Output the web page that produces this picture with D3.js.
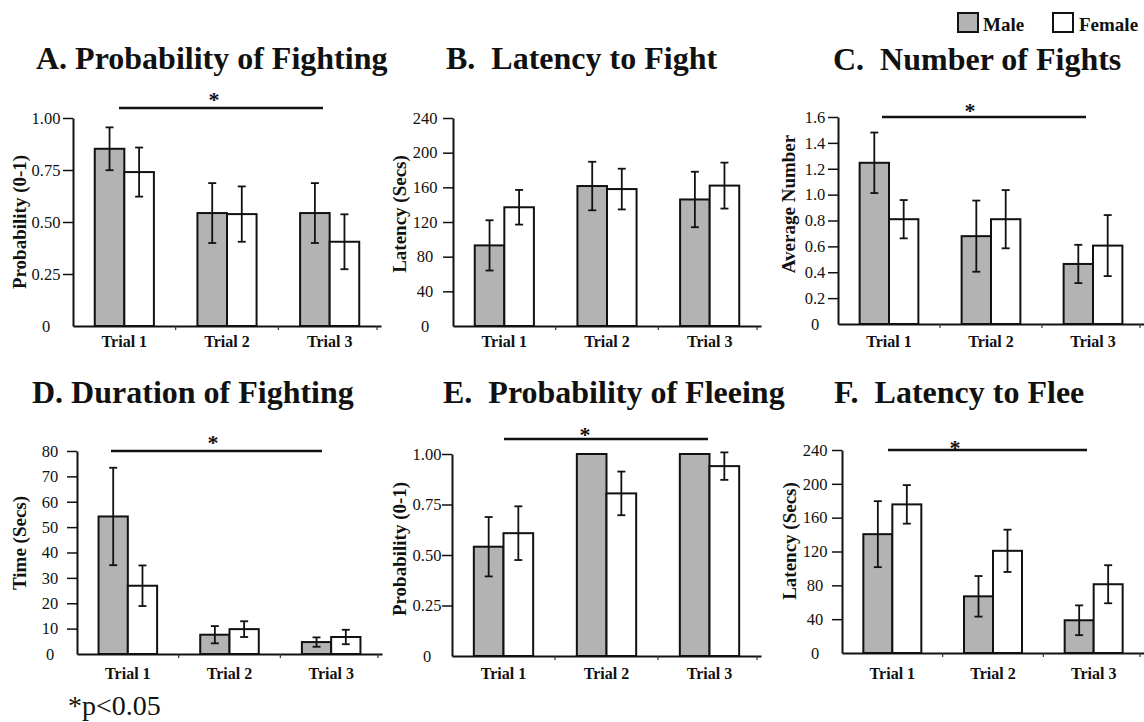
<!DOCTYPE html>
<html><head><meta charset="utf-8">
<script src="https://cdn.jsdelivr.net/npm/d3@7"></script>
<style>
body{margin:0;background:#fff;}
svg text{font-family:"Liberation Serif","Times New Roman",serif;}
</style></head>
<body><svg id="c" width="1144" height="722"></svg>
<script>
// ---------- data ----------
const trials = ["Trial 1", "Trial 2", "Trial 3"];
const series = ["Male", "Female"];
const titles = ["A. Probability of Fighting", "B.\u00a0 Latency to Fight", "C.\u00a0 Number of Fights",
                "D. Duration of Fighting", "E.\u00a0 Probability of Fleeing", "F.\u00a0 Latency to Flee"];
const yTitles = ["Probability (0-1)", "Latency (Secs)", "Average Number", "Time (Secs)", "Probability (0-1)", "Latency (Secs)"];

const probTicks = [0, 0.25, 0.5, 0.75, 1];
const probTickLabels = ["0", "0.25", "0.50", "0.75", "1.00"];
const latencyTicks = [0, 40, 80, 120, 160, 200, 240];
const latencyTickLabels = ["0", "40", "80", "120", "160", "200", "240"];
const numberTicks = [0, 0.2, 0.4, 0.6, 0.8, 1.0, 1.2, 1.4, 1.6];
const numberTickLabels = ["0", "0.2", "0.4", "0.6", "0.8", "1.0", "1.2", "1.4", "1.6"];
const durationTicks = [0, 10, 20, 30, 40, 50, 60, 70, 80];
const durationTickLabels = ["0", "10", "20", "30", "40", "50", "60", "70", "80"];

// A. Probability of Fighting
const fightProbMale = [0.852, 0.543, 0.543];
const fightProbMaleSE = [0.103, 0.144, 0.144];
const fightProbFemale = [0.74, 0.538, 0.405];
const fightProbFemaleSE = [0.118, 0.133, 0.132];
// B. Latency to Fight
const fightLatMale = [93, 161.5, 146];
const fightLatMaleSE = [29, 28, 32];
const fightLatFemale = [137, 158, 162];
const fightLatFemaleSE = [20, 23.5, 26.5];
// C. Number of Fights
const fightNumMale = [1.246, 0.679, 0.464];
const fightNumMaleSE = [0.234, 0.275, 0.148];
const fightNumFemale = [0.81, 0.81, 0.606];
const fightNumFemaleSE = [0.148, 0.225, 0.236];
// D. Duration of Fighting
const fightDurMale = [54.2, 7.6, 4.7];
const fightDurMaleSE = [19.2, 3.4, 1.85];
const fightDurFemale = [26.9, 9.8, 6.7];
const fightDurFemaleSE = [8, 3.1, 2.85];
// E. Probability of Fleeing
const fleeProbMale = [0.541, 1.0, 1.0];
const fleeProbMaleSE = [0.147, 0, 0];
const fleeProbFemale = [0.608, 0.805, 0.94];
const fleeProbFemaleSE = [0.133, 0.108, 0.068];
// F. Latency to Flee
const fleeLatMale = [140.5, 67, 38.7];
const fleeLatMaleSE = [39, 24, 17.6];
const fleeLatFemale = [175.7, 120.8, 81.3];
const fleeLatFemaleSE = [22.8, 25, 22.5];

const footnote = "*p<0.05";
const sigMark = "*";

// ---------- build panels ----------
const panelData = [
  {male: fightProbMale, maleSE: fightProbMaleSE, female: fightProbFemale, femaleSE: fightProbFemaleSE, max: 1, ticks: probTicks, labels: probTickLabels, sig: true},
  {male: fightLatMale, maleSE: fightLatMaleSE, female: fightLatFemale, femaleSE: fightLatFemaleSE, max: 240, ticks: latencyTicks, labels: latencyTickLabels, sig: false},
  {male: fightNumMale, maleSE: fightNumMaleSE, female: fightNumFemale, femaleSE: fightNumFemaleSE, max: 1.6, ticks: numberTicks, labels: numberTickLabels, sig: true},
  {male: fightDurMale, maleSE: fightDurMaleSE, female: fightDurFemale, femaleSE: fightDurFemaleSE, max: 80, ticks: durationTicks, labels: durationTickLabels, sig: true},
  {male: fleeProbMale, maleSE: fleeProbMaleSE, female: fleeProbFemale, femaleSE: fleeProbFemaleSE, max: 1, ticks: probTicks, labels: probTickLabels, sig: true},
  {male: fleeLatMale, maleSE: fleeLatMaleSE, female: fleeLatFemale, femaleSE: fleeLatFemaleSE, max: 240, ticks: latencyTicks, labels: latencyTickLabels, sig: true}
];

// layout (pixel geometry)
const layout = [
  {x0: 73,  x1: 381,  yTop: 118, yBot: 326, tickX: 46,  labX: 19,  labY: 222, titleX: 36,  titleY: 69,  xLabY: 347, sx1: 119, sx2: 323,  sy: 108, starX: 214, starY: 95},
  {x0: 453, x1: 761,  yTop: 118, yBot: 326, tickX: 425, labX: 399, labY: 214, titleX: 446, titleY: 69,  xLabY: 347},
  {x0: 838, x1: 1144, yTop: 117, yBot: 324, tickX: 815, labX: 788, labY: 204, titleX: 833, titleY: 70,  xLabY: 347, sx1: 882, sx2: 1086, sy: 117, starX: 970, starY: 106},
  {x0: 77,  x1: 382,  yTop: 451, yBot: 654, tickX: 50,  labX: 19,  labY: 543, titleX: 32,  titleY: 403, xLabY: 679, sx1: 111, sx2: 322,  sy: 451, starX: 213, starY: 438},
  {x0: 452, x1: 761,  yTop: 454, yBot: 656, tickX: 427, labX: 399, labY: 549, titleX: 443, titleY: 403, xLabY: 679, sx1: 504, sx2: 708,  sy: 439, starX: 585, starY: 430},
  {x0: 842, x1: 1144, yTop: 450, yBot: 653, tickX: 815, labX: 789, labY: 541, titleX: 834, titleY: 403, xLabY: 679, sx1: 888, sx2: 1087, sy: 450, starX: 955, starY: 443}
];

const GRAY = "#b3b3b3";
const svg = d3.select("#c");

panelData.forEach((p, i) => {
  const L = layout[i];
  const g = svg.append("g");
  const x = d3.scaleBand().domain(trials).range([L.x0, L.x1]).padding(0);
  const y = d3.scaleLinear().domain([0, p.max]).range([L.yBot, L.yTop]);
  const bw = x.bandwidth() * 0.288;

  // title
  g.append("text").attr("x", L.titleX).attr("y", L.titleY)
    .attr("font-size", 32).attr("font-weight", "bold").attr("fill", "#111")
    .text(titles[i]);

  // y axis title
  g.append("text")
    .attr("transform", `translate(${L.labX},${L.labY}) rotate(-90)`)
    .attr("text-anchor", "middle").attr("dominant-baseline", "central")
    .attr("font-size", 19).attr("font-weight", "bold").attr("fill", "#111")
    .text(yTitles[i]);

  // bars
  const rows = trials.map((t, k) => ({t, k}));
  const drawSeries = (vals, ses, offset, fill) => {
    g.selectAll(null).data(rows).enter().append("rect")
      .attr("x", d => x(d.t) + x.bandwidth() / 2 + offset * bw)
      .attr("y", d => y(vals[d.k]))
      .attr("width", bw)
      .attr("height", d => y(0) - y(vals[d.k]))
      .attr("fill", fill).attr("stroke", "#111").attr("stroke-width", 2);
    const eb = rows.filter(d => ses[d.k] > 0);
    const cx = d => x(d.t) + x.bandwidth() / 2 + offset * bw + bw / 2;
    g.selectAll(null).data(eb).enter().append("line")
      .attr("x1", cx).attr("x2", cx)
      .attr("y1", d => y(vals[d.k] + ses[d.k])).attr("y2", d => y(vals[d.k] - ses[d.k]))
      .attr("stroke", "#111").attr("stroke-width", 1.8);
    [1, -1].forEach(s => {
      g.selectAll(null).data(eb).enter().append("line")
        .attr("x1", d => cx(d) - 4).attr("x2", d => cx(d) + 4)
        .attr("y1", d => y(vals[d.k] + s * ses[d.k])).attr("y2", d => y(vals[d.k] + s * ses[d.k]))
        .attr("stroke", "#111").attr("stroke-width", 1.8);
    });
  };
  drawSeries(p.male, p.maleSE, -1, GRAY);
  drawSeries(p.female, p.femaleSE, 0, "#fff");

  // y axis
  const yAxis = d3.axisLeft(y).tickValues(p.ticks)
    .tickFormat((d, j) => p.labels[j]).tickSize(10).tickSizeOuter(0);
  const ya = g.append("g").attr("transform", `translate(${L.x0},0)`).call(yAxis);
  ya.select(".domain").attr("stroke", "#111").attr("stroke-width", 2);
  ya.selectAll(".tick line").attr("stroke", "#111").attr("stroke-width", 1.5)
    .filter(d => d === 0).remove();
  ya.selectAll(".tick text")
    .attr("x", L.tickX - L.x0).attr("text-anchor", "middle")
    .attr("font-size", 16.5).attr("fill", "#111")
    .style("font-family", "'Liberation Serif', serif");

  // x axis
  const xAxis = d3.axisBottom(x).tickSize(0).tickSizeOuter(0);
  const xa = g.append("g").attr("transform", `translate(0,${L.yBot})`).call(xAxis);
  xa.select(".domain").attr("stroke", "#111").attr("stroke-width", 2.2);
  xa.selectAll(".tick text").attr("y", L.xLabY - L.yBot).attr("dy", 0)
    .attr("font-size", 16).attr("font-weight", "bold").attr("fill", "#111")
    .style("font-family", "'Liberation Serif', serif");
  // small boundary ticks
  const bounds = trials.slice(1).map(t => x(t)).concat([L.x1 - 4]);
  xa.selectAll(null).data(bounds).enter().append("line")
    .attr("x1", d => d).attr("x2", d => d).attr("y1", 0).attr("y2", 4)
    .attr("stroke", "#333").attr("stroke-width", 1.2);

  // significance bar
  if (p.sig) {
    g.append("line").attr("x1", L.sx1).attr("x2", L.sx2).attr("y1", L.sy).attr("y2", L.sy)
      .attr("stroke", "#111").attr("stroke-width", 2.5);
    g.append("text").attr("x", L.starX).attr("y", L.starY + 12)
      .attr("text-anchor", "middle").attr("font-size", 22).attr("font-weight", "bold")
      .attr("fill", "#111").text(sigMark);
  }
});

// legend
const legendPos = [{bx: 958, tx: 983}, {bx: 1053, tx: 1079}];
series.forEach((s, i) => {
  svg.append("rect").attr("x", legendPos[i].bx).attr("y", 13).attr("width", 20).attr("height", 19)
    .attr("fill", i === 0 ? GRAY : "#fff").attr("stroke", "#111").attr("stroke-width", 2);
  svg.append("text").attr("x", legendPos[i].tx).attr("y", 31)
    .attr("font-size", 19).attr("font-weight", "bold").attr("fill", "#111").text(s);
});

// footnote
svg.append("text").attr("x", 68).attr("y", 715).attr("font-size", 28).attr("fill", "#111").text(footnote);
</script>
</body></html>
